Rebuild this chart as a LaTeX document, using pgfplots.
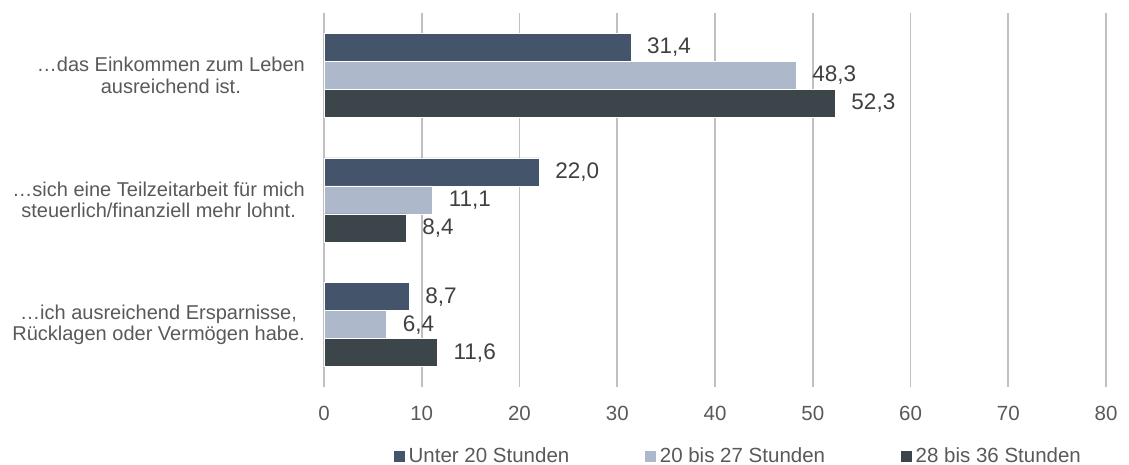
\documentclass[border=0pt]{standalone}
\usepackage{pgfplots}
\pgfplotsset{compat=1.18}
\usepackage{fontspec}
\setmainfont{Liberation Sans}
\definecolor{cA}{HTML}{44546A}
\definecolor{cB}{HTML}{ADB9CA}
\definecolor{cC}{HTML}{3C4549}
\definecolor{txt}{HTML}{595959}
\definecolor{val}{HTML}{404040}
\definecolor{gridc}{HTML}{C0C0C0}
\begin{document}
\begin{tikzpicture}[x=1pt,y=1pt]
\useasboundingbox (0,0) rectangle (1129,465);
\begin{axis}[
  at={(324pt,78pt)}, anchor=south west,
  scale only axis, width=782pt, height=374pt,
  xbar, bar width=28pt,
  xmin=0, xmax=80, ymin=-0.5, ymax=2.5,
  xtick={0,10,...,80}, ytick={0,1,2},
  yticklabels={{…ich ausreichend Ersparnisse,\\Rücklagen oder Vermögen habe.},
               {…sich eine Teilzeitarbeit für mich\\steuerlich/finanziell mehr lohnt.},
               {…das Einkommen zum Leben\\ausreichend ist.}},
  axis line style={draw=none},
  major tick length=0pt,
  xmajorgrids, grid style={gridc, line width=1.6pt},
  /pgf/number format/assume math mode=true,
  xticklabel style={font=\fontsize{20.5}{22}\selectfont, text=txt, anchor=north, inner sep=0pt, yshift=-19pt},
  yticklabel style={font=\fontsize{20}{21.5}\selectfont, text=txt, anchor=east, align=center, inner xsep=0pt, xshift=-19pt},
  point meta=x,
  nodes near coords={\pgfmathprintnumber[fixed,fixed zerofill,precision=1,use comma,assume math mode=true]{\pgfplotspointmeta}},
  nodes near coords style={font=\fontsize{22.5}{24}\selectfont, text=val, anchor=west, inner xsep=0pt, xshift=16pt},
  legend columns=3,
  legend style={draw=none, at={(0.0882,-0.1845)}, anchor=west, inner sep=0pt,
    font=\fontsize{20.5}{22}\selectfont, text=txt,
    /tikz/every odd column/.append style={column sep=3pt},
    /tikz/every even column/.append style={column sep=75pt},
    nodes={inner sep=0pt}},
  legend image code/.code={\fill[#1] (0pt,-6pt) rectangle (12pt,6pt);},
]
\addplot[fill=cA, draw=white, line width=0.5pt, bar shift=28pt] coordinates {(8.7,0) (22.0,1) (31.4,2)};
\addlegendentry{Unter 20 Stunden}
\addplot[fill=cB, draw=white, line width=0.5pt, bar shift=0pt] coordinates {(6.4,0) (11.1,1) (48.3,2)};
\addlegendentry{20 bis 27 Stunden}
\addplot[fill=cC, draw=white, line width=0.5pt, bar shift=-28pt] coordinates {(11.6,0) (8.4,1) (52.3,2)};
\addlegendentry{28 bis 36 Stunden}
\end{axis}
\end{tikzpicture}
\end{document}
